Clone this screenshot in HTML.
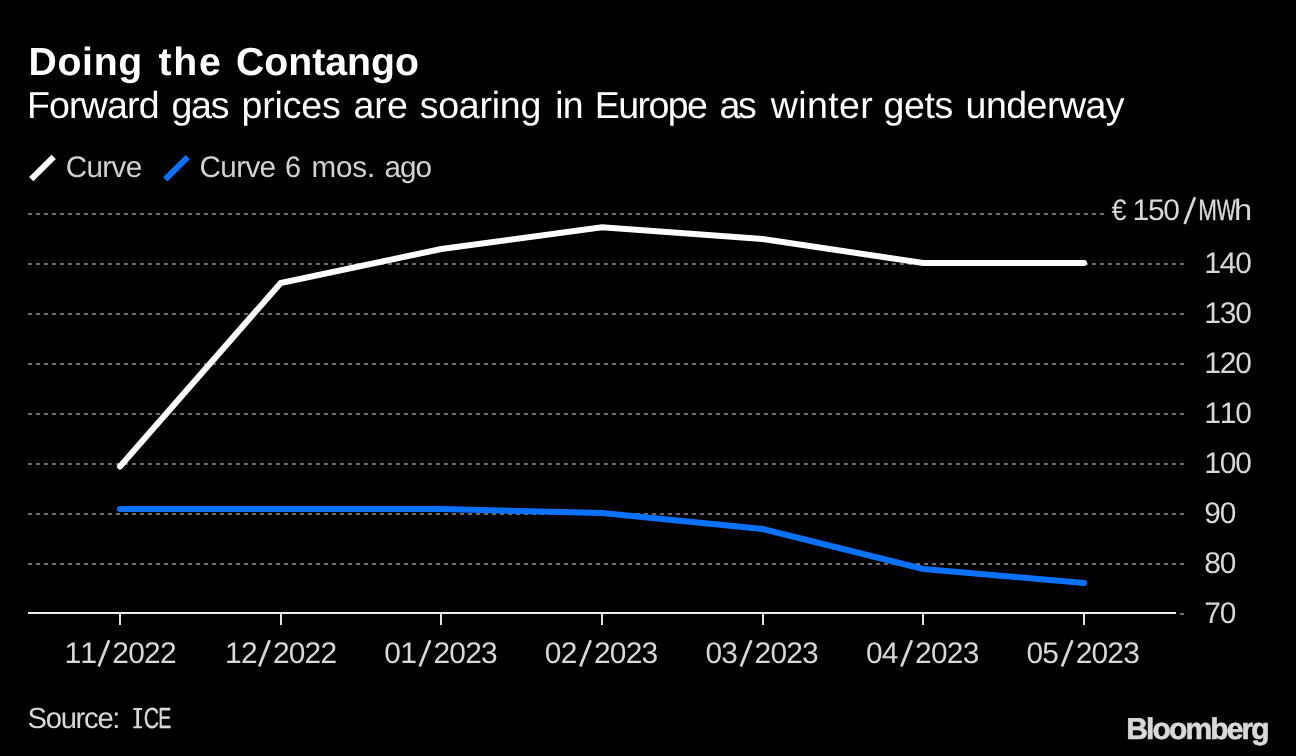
<!DOCTYPE html>
<html lang="en"><head><meta charset="utf-8"><title>Doing the Contango</title>
<style>html,body{margin:0;padding:0;background:#000;}body{width:1296px;height:756px;overflow:hidden;font-family:"Liberation Sans",sans-serif;}svg{display:block;position:absolute;left:0;top:0;will-change:transform;}text{font-family:"Liberation Sans",sans-serif;white-space:pre;text-rendering:geometricPrecision;}</style></head><body>
<svg width="1296" height="756" viewBox="0 0 1296 756">
<rect width="1296" height="756" fill="#000"/>
<!-- gridlines -->
<g stroke="#6c6c6c" stroke-width="2" stroke-dasharray="4 4" shape-rendering="crispEdges">
<line x1="28" y1="214" x2="1104" y2="214"/>
<line x1="28" y1="264" x2="1184" y2="264"/>
<line x1="28" y1="314" x2="1184" y2="314"/>
<line x1="28" y1="364" x2="1184" y2="364"/>
<line x1="28" y1="414" x2="1184" y2="414"/>
<line x1="28" y1="464" x2="1184" y2="464"/>
<line x1="28" y1="514" x2="1184" y2="514"/>
<line x1="28" y1="564" x2="1184" y2="564"/>
</g>
<rect x="1180" y="613" width="4" height="2" fill="#6c6c6c" shape-rendering="crispEdges"/>
<!-- x axis -->
<line x1="28" y1="613" x2="1176" y2="613" stroke="#eeeeee" stroke-width="2" shape-rendering="crispEdges"/>
<g stroke="#e2e2e2" stroke-width="2" shape-rendering="crispEdges">
<line x1="120" y1="614" x2="120" y2="625"/>
<line x1="281" y1="614" x2="281" y2="625"/>
<line x1="441" y1="614" x2="441" y2="625"/>
<line x1="602" y1="614" x2="602" y2="625"/>
<line x1="763" y1="614" x2="763" y2="625"/>
<line x1="923" y1="614" x2="923" y2="625"/>
<line x1="1084" y1="614" x2="1084" y2="625"/>
</g>
<!-- series -->
<polyline points="120.0,509 280.67,509 441.33,509 602.0,513 762.67,529 923.33,569 1084.0,583" fill="none" stroke="#0a72ff" stroke-width="6" stroke-linecap="round" stroke-linejoin="miter"/>
<polyline points="120.0,466.5 280.67,283 441.33,249 602.0,227.3 762.67,239 923.33,263 1084.0,263" fill="none" stroke="#ffffff" stroke-width="6" stroke-linecap="round" stroke-linejoin="miter"/>
<!-- legend swatches -->
<line x1="31.2" y1="179.2" x2="53.7" y2="156.9" stroke="#ffffff" stroke-width="6.1"/>
<line x1="165.2" y1="179.4" x2="187.7" y2="157.1" stroke="#0a72ff" stroke-width="6.1"/>
<!-- text -->
<text x="28.48" y="75.4" font-size="39.2" font-weight="700" letter-spacing="0.689" fill="#fff">Doing</text>
<text x="158.53" y="75.4" font-size="39.2" font-weight="700" letter-spacing="1.746" fill="#fff">the</text>
<text x="235.97" y="75.4" font-size="39.2" font-weight="700" letter-spacing="0.012" fill="#fff">Contango</text>
<text x="27.0" y="117.7" font-size="37.5" letter-spacing="-0.833" fill="#fff">Forward</text>
<text x="171.51" y="117.7" font-size="37.5" letter-spacing="-1.253" fill="#fff">gas</text>
<text x="241.52" y="117.7" font-size="37.5" letter-spacing="-0.167" fill="#fff">prices</text>
<text x="353.44" y="117.7" font-size="37.5" letter-spacing="0.052" fill="#fff">are</text>
<text x="419.72" y="117.7" font-size="37.5" letter-spacing="-0.227" fill="#fff">soaring</text>
<text x="555.18" y="117.7" font-size="37.5" letter-spacing="-0.634" fill="#fff">in</text>
<text x="594.66" y="117.7" font-size="37.5" letter-spacing="-1.532" fill="#fff">Europe</text>
<text x="719.44" y="117.7" font-size="37.5" letter-spacing="-2.297" fill="#fff">as</text>
<text x="770.83" y="117.7" font-size="37.5" letter-spacing="0.351" fill="#fff">winter</text>
<text x="883.51" y="117.7" font-size="37.5" letter-spacing="-0.372" fill="#fff">gets</text>
<text x="965.56" y="117.7" font-size="37.5" letter-spacing="-0.509" fill="#fff">underway</text>
<text x="65.86" y="177.3" font-size="29.6" letter-spacing="-0.678" fill="#d2d2d2">Curve</text>
<text x="199.57" y="177.3" font-size="29.6" letter-spacing="-0.611" fill="#d2d2d2">Curve</text>
<text transform="translate(285.08 177.3) scale(0.9695 1)" font-size="29.6" fill="#d2d2d2">6</text>
<text x="311.39" y="177.3" font-size="29.6" letter-spacing="-0.098" fill="#d2d2d2">mos.</text>
<text x="384.46" y="177.3" font-size="29.6" letter-spacing="-0.945" fill="#d2d2d2">ago</text>
<text transform="translate(1111.6 220) scale(0.9095 1)" font-size="29.6" fill="#d8d8d8">€</text>
<text x="1132.52" y="220" font-size="29.9" letter-spacing="-1.222" style="font-kerning:none" fill="#d8d8d8">150</text>
<text transform="translate(1198.37 220) scale(0.7579 1)" font-size="29.6" fill="#d8d8d8" stroke="#d8d8d8" stroke-width="0.35">M</text>
<text transform="translate(1216.84 220) scale(0.6863 1)" font-size="29.6" fill="#d8d8d8" stroke="#d8d8d8" stroke-width="0.35">W</text>
<text transform="translate(1233.99 220) scale(1.1069 1)" font-size="29.6" fill="#d8d8d8">h</text>
<text x="1204.2" y="273" font-size="29.9" letter-spacing="-1.06" style="font-kerning:none" fill="#d8d8d8">140</text>
<text x="1204.2" y="323" font-size="29.9" letter-spacing="-1.06" style="font-kerning:none" fill="#d8d8d8">130</text>
<text x="1204.2" y="373" font-size="29.9" letter-spacing="-1.06" style="font-kerning:none" fill="#d8d8d8">120</text>
<text x="1204.2" y="423" font-size="29.9" letter-spacing="-1.06" style="font-kerning:none" fill="#d8d8d8">110</text>
<text x="1204.2" y="473" font-size="29.9" letter-spacing="-1.06" style="font-kerning:none" fill="#d8d8d8">100</text>
<text x="1204.2" y="523" font-size="29.9" letter-spacing="-1.06" style="font-kerning:none" fill="#d8d8d8">90</text>
<text x="1204.2" y="573" font-size="29.9" letter-spacing="-1.06" style="font-kerning:none" fill="#d8d8d8">80</text>
<text x="1204.2" y="623" font-size="29.9" letter-spacing="-1.06" style="font-kerning:none" fill="#d8d8d8">70</text>
<text x="27.47" y="728" font-size="29.2" letter-spacing="-1.267" fill="#d8d8d8">Source:</text>
<text transform="translate(143.87 728) scale(0.7312 1)" font-size="29.2" fill="#d8d8d8" stroke="#d8d8d8" stroke-width="0.3">C</text>
<text transform="translate(158.32 728) scale(0.6715 1)" font-size="29.2" fill="#d8d8d8" stroke="#d8d8d8" stroke-width="0.3">E</text>
<text x="1126.22" y="738.6" font-size="30" font-weight="700" letter-spacing="-1.857" fill="#d9d9d9" stroke="#d9d9d9" stroke-width="0.6">Bloomberg</text>
<text x="64.52" y="662.9" font-size="29.9" letter-spacing="-0.784" style="font-kerning:none" fill="#d8d8d8">11</text>
<text x="112.37" y="662.9" font-size="29.9" letter-spacing="-0.784" style="font-kerning:none" fill="#d8d8d8">2022</text>
<line x1="98.65" y1="666.6" x2="109.1" y2="640.2" stroke="#d8d8d8" stroke-width="2.7"/>
<text x="225.07" y="662.9" font-size="29.9" letter-spacing="-0.784" style="font-kerning:none" fill="#d8d8d8">12</text>
<text x="272.92" y="662.9" font-size="29.9" letter-spacing="-0.784" style="font-kerning:none" fill="#d8d8d8">2022</text>
<line x1="259.2" y1="666.6" x2="269.65" y2="640.2" stroke="#d8d8d8" stroke-width="2.7"/>
<text x="384.32" y="662.9" font-size="29.9" letter-spacing="-0.784" style="font-kerning:none" fill="#d8d8d8">01</text>
<text x="433.47" y="662.9" font-size="29.9" letter-spacing="-0.784" style="font-kerning:none" fill="#d8d8d8">2023</text>
<line x1="419.75" y1="666.6" x2="430.2" y2="640.2" stroke="#d8d8d8" stroke-width="2.7"/>
<text x="544.87" y="662.9" font-size="29.9" letter-spacing="-0.784" style="font-kerning:none" fill="#d8d8d8">02</text>
<text x="594.02" y="662.9" font-size="29.9" letter-spacing="-0.784" style="font-kerning:none" fill="#d8d8d8">2023</text>
<line x1="580.3" y1="666.6" x2="590.75" y2="640.2" stroke="#d8d8d8" stroke-width="2.7"/>
<text x="705.42" y="662.9" font-size="29.9" letter-spacing="-0.784" style="font-kerning:none" fill="#d8d8d8">03</text>
<text x="754.57" y="662.9" font-size="29.9" letter-spacing="-0.784" style="font-kerning:none" fill="#d8d8d8">2023</text>
<line x1="740.85" y1="666.6" x2="751.3" y2="640.2" stroke="#d8d8d8" stroke-width="2.7"/>
<text x="865.97" y="662.9" font-size="29.9" letter-spacing="-0.784" style="font-kerning:none" fill="#d8d8d8">04</text>
<text x="915.12" y="662.9" font-size="29.9" letter-spacing="-0.784" style="font-kerning:none" fill="#d8d8d8">2023</text>
<line x1="901.4" y1="666.6" x2="911.85" y2="640.2" stroke="#d8d8d8" stroke-width="2.7"/>
<text x="1026.52" y="662.9" font-size="29.9" letter-spacing="-0.784" style="font-kerning:none" fill="#d8d8d8">05</text>
<text x="1075.67" y="662.9" font-size="29.9" letter-spacing="-0.784" style="font-kerning:none" fill="#d8d8d8">2023</text>
<line x1="1061.95" y1="666.6" x2="1072.4" y2="640.2" stroke="#d8d8d8" stroke-width="2.7"/>
<line x1="1184.6" y1="224" x2="1194.9" y2="197.2" stroke="#d8d8d8" stroke-width="2.7"/>
<path d="M133.4 708h8.6v2h-2.9v16.2h2.9v2h-8.6v-2h2.9v-16.2h-2.9z" fill="#d8d8d8"/>
<rect x="1135.81" y="218" width="11.8" height="2" fill="#d8d8d8"/>
<rect x="1207.49" y="271" width="11.8" height="2" fill="#d8d8d8"/>
<rect x="1207.49" y="321" width="11.8" height="2" fill="#d8d8d8"/>
<rect x="1207.49" y="371" width="11.8" height="2" fill="#d8d8d8"/>
<rect x="1207.49" y="421" width="11.8" height="2" fill="#d8d8d8"/>
<rect x="1223.06" y="421" width="11.8" height="2" fill="#d8d8d8"/>
<rect x="1207.49" y="471" width="11.8" height="2" fill="#d8d8d8"/>
<rect x="67.81" y="660.9" width="11.8" height="2" fill="#d8d8d8"/>
<rect x="83.65" y="660.9" width="11.8" height="2" fill="#d8d8d8"/>
<rect x="228.36" y="660.9" width="11.8" height="2" fill="#d8d8d8"/>
<rect x="403.45" y="660.9" width="11.8" height="2" fill="#d8d8d8"/>
</svg></body></html>
